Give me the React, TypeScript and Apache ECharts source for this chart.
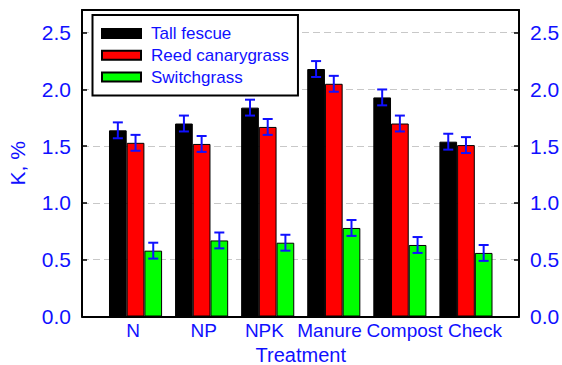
import React, { useEffect, useRef } from "react";
import * as echarts from "echarts";

const categories = ["N", "NP", "NPK", "Manure", "Compost", "Check"];
const seriesNames = ["Tall fescue", "Reed canarygrass", "Switchgrass"];
const seriesColors = ["#000000", "#ff0000", "#00ff00"];
const tallFescue = [1.64, 1.7, 1.84, 2.18, 1.93, 1.54];
const reedCanarygrass = [1.53, 1.52, 1.67, 2.05, 1.7, 1.51];
const switchgrass = [0.58, 0.67, 0.65, 0.78, 0.63, 0.56];
const tallFescueErr = [0.07, 0.07, 0.07, 0.07, 0.07, 0.07];
const reedCanarygrassErr = [0.07, 0.07, 0.07, 0.07, 0.07, 0.07];
const switchgrassErr = [0.07, 0.07, 0.07, 0.07, 0.07, 0.07];
const yMin = 0;
const yMax = 2.7;
const yInterval = 0.5;

const FONT = "Liberation Sans, Arial, sans-serif";
const BLUE = "#1010ff";
const BAR_W = 17.7;
// horizontal nudge (px) of each category label, as in the reference layout
const labelShift = [-2.5, 2, -3.3, -4.3, 4.7, 9];

export default function App() {
  const ref = useRef<HTMLDivElement>(null);
  useEffect(() => {
    if (!ref.current) return;
    const chart = echarts.init(ref.current, null, { renderer: "svg" });
    const values = [tallFescue, reedCanarygrass, switchgrass];
    const errs = [tallFescueErr, reedCanarygrassErr, switchgrassErr];
    const offsets = [-BAR_W, 0, BAR_W];

    const barSeries = seriesNames.map((name, s) => ({
      name,
      type: "bar",
      xAxisIndex: 2,
      yAxisIndex: 2,
      barWidth: BAR_W,
      barGap: "0%",
      data: values[s],
      itemStyle: { color: seriesColors[s], borderColor: "#000", borderWidth: 1 },
      z: 3,
    }));

    const errSeries = seriesNames.map((name, s) => ({
      type: "custom",
      xAxisIndex: 2,
      yAxisIndex: 2,
      z: 5,
      encode: { x: 0, y: 1 },
      data: values[s].map((v, i) => [i, v, errs[s][i]]),
      renderItem: (params: any, api: any) => {
        const i = api.value(0);
        const v = api.value(1);
        const e = api.value(2);
        const hi = api.coord([i, v + e]);
        const lo = api.coord([i, v - e]);
        const x = hi[0] + offsets[s];
        const hw = 5;
        const style = { stroke: BLUE, lineWidth: 2 };
        return {
          type: "group",
          children: [
            { type: "line", shape: { x1: x, y1: hi[1], x2: x, y2: lo[1] }, style },
            { type: "line", shape: { x1: x - hw, y1: hi[1], x2: x + hw, y2: hi[1] }, style },
            { type: "line", shape: { x1: x - hw, y1: lo[1], x2: x + hw, y2: lo[1] }, style },
          ],
        };
      },
    }));

    const yCommon = {
      type: "value",
      min: yMin,
      max: yMax,
      interval: yInterval,
      gridIndex: 0,
    };

    const frameX = (position: string) => ({
      type: "value",
      gridIndex: 0,
      position,
      min: 0,
      max: 1,
      axisLine: { show: true, onZero: false, lineStyle: { color: "#000", width: 2 } },
      axisTick: { show: false },
      axisLabel: { show: false },
      splitLine: { show: false },
    });

    chart.setOption({
      animation: false,
      textStyle: { fontFamily: FONT },
      grid: [
        { left: 82, right: 43, top: 10, bottom: 48.5, outerBoundsMode: "none", containLabel: false },
        { left: 102.5, right: 63, top: 10, bottom: 48.5, outerBoundsMode: "none", containLabel: false },
      ],
      legend: {
        orient: "vertical",
        left: 92.5,
        top: 15,
        data: seriesNames,
        icon: "rect",
        itemWidth: 39,
        itemHeight: 9,
        itemGap: 4.8,
        borderColor: "#000",
        borderWidth: 2,
        padding: [10, 9, 10, 8.5],
        backgroundColor: "#fff",
        textStyle: { color: BLUE, fontSize: 17, fontFamily: FONT, padding: [0, 0, 0, 5] },
        z: 10,
      },
      xAxis: [
        frameX("bottom"),
        frameX("top"),
        {
          type: "category",
          gridIndex: 1,
          data: categories.map((c, i) => ({
            value: c,
            textStyle: {
              padding: [0, labelShift[i] < 0 ? -2 * labelShift[i] : 0, 0, labelShift[i] > 0 ? 2 * labelShift[i] : 0],
            },
          })),
          axisLine: { show: false },
          axisTick: { show: false },
          axisLabel: { color: BLUE, fontSize: 19, fontFamily: FONT, margin: 4.5, interval: 0, hideOverlap: false },
          name: "Treatment",
          nameLocation: "middle",
          nameGap: 24,
          nameTextStyle: { color: BLUE, fontSize: 20, fontFamily: FONT },
        },
      ],
      yAxis: [
        {
          ...yCommon,
          position: "left",
          axisLine: { show: true, onZero: false, lineStyle: { color: "#000", width: 2 } },
          axisTick: { show: true, inside: true, length: 5, lineStyle: { color: "#000", width: 1.5 } },
          axisLabel: { color: BLUE, fontSize: 21, fontFamily: FONT, margin: 11, showMaxLabel: false, formatter: (v: number) => v.toFixed(1) },
          splitLine: { show: true, showMinLine: false, showMaxLine: false, lineStyle: { color: "#c8c8c8", type: [7, 4], width: 1 } },
          name: "K, %",
          nameLocation: "middle",
          nameGap: 54,
          nameTextStyle: { color: BLUE, fontSize: 21, fontFamily: FONT },
        },
        {
          ...yCommon,
          position: "right",
          axisLine: { show: true, onZero: false, lineStyle: { color: "#000", width: 2 } },
          axisTick: { show: true, inside: true, length: 5, lineStyle: { color: "#000", width: 1.5 } },
          axisLabel: { color: BLUE, fontSize: 21, fontFamily: FONT, margin: 11, showMaxLabel: false, formatter: (v: number) => v.toFixed(1) },
          splitLine: { show: false },
        },
        { ...yCommon, gridIndex: 1, show: false, splitLine: { show: false } },
      ],
      series: [...barSeries, ...errSeries],
    });
    return () => chart.dispose();
  }, []);
  return <div ref={ref} style={{ width: 562, height: 365, position: "absolute", left: 0, top: 0 }} />;
}
